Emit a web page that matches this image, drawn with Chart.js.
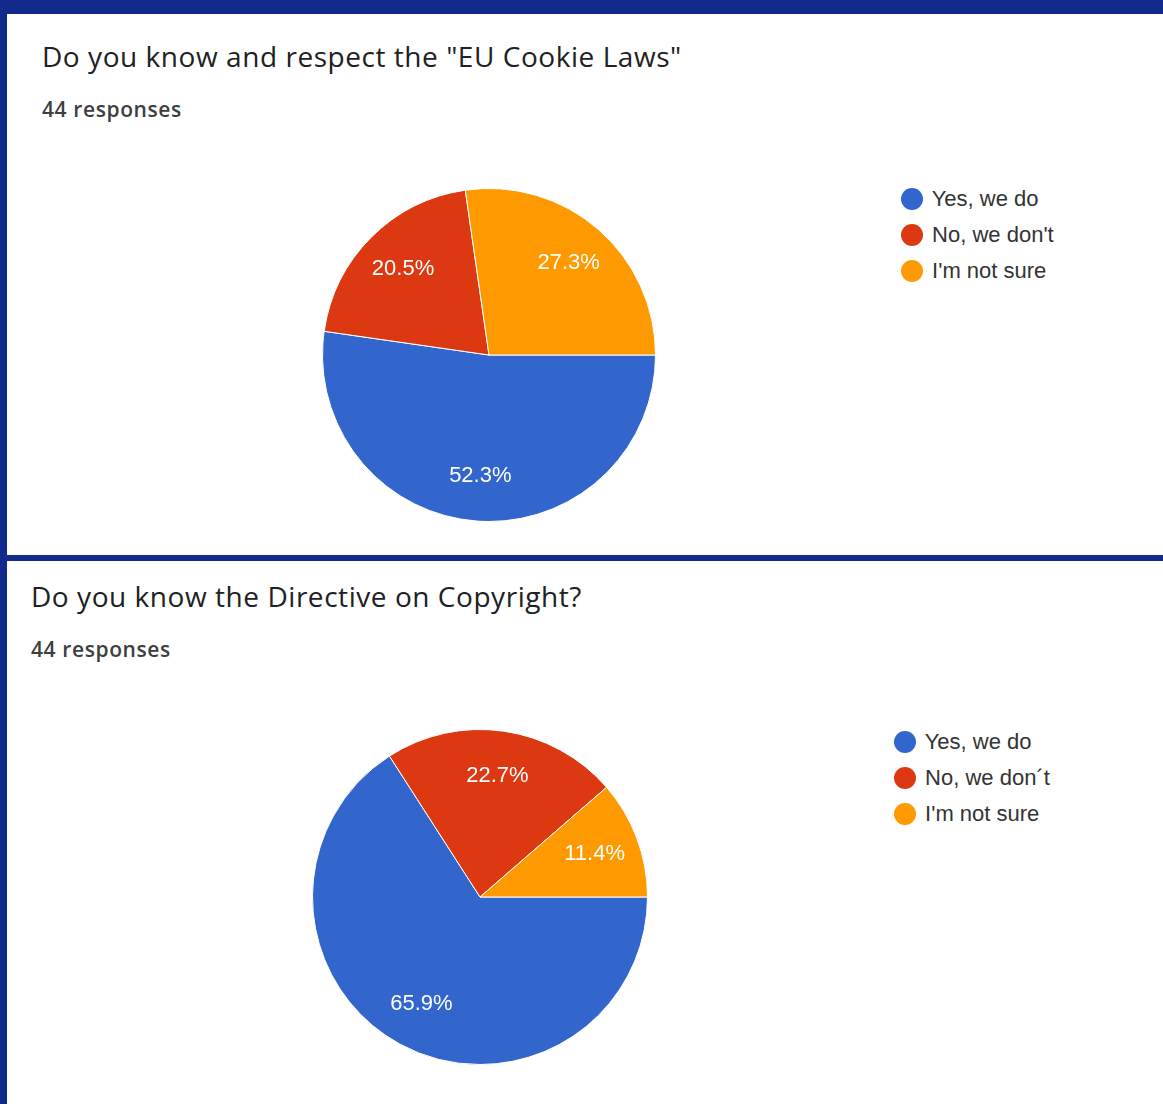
<!DOCTYPE HTML>
<html>

<head>
  <title>Survey</title>
  <meta charset="utf-8">
  <script src="https://cdn.jsdelivr.net/npm/chart.js"></script>
  <style>
    body { margin: 0; background: #112a8b; width: 1163px; height: 1104px; position: relative; overflow: hidden; }
    .panel { position: absolute; background: #fff; }
    .title { position: absolute; font-family: "Open Sans", sans-serif; font-size: 28px; line-height: 28px; letter-spacing: 0.55px; color: #202124; white-space: nowrap; }
    .resp { position: absolute; font-family: "Open Sans", sans-serif; font-size: 21px; line-height: 21px; letter-spacing: 0.6px; font-weight: 600; color: #3c4043; white-space: nowrap; }
    .legend { position: absolute; font-family: "Liberation Sans", Arial, sans-serif; font-size: 22px; color: #333; }
    .legend div { height: 36px; line-height: 36px; white-space: nowrap; }
    .legend span { display: inline-block; width: 22px; height: 22px; border-radius: 50%; vertical-align: middle; margin: -3px 3px 0 0; }
    canvas { position: absolute; }
  </style>
</head>

<body>
  <div class="panel" style="left:7px; top:14px; width:1156px; height:541px;"></div>
  <div class="panel" style="left:7px; top:561px; width:1156px; height:543px;"></div>

  <div class="title" style="left:42px; top:42px;">Do you know and respect the "EU Cookie Laws"</div>
  <div class="resp" style="left:42px; top:99px;">44 responses</div>
  <canvas id="cookieChart" width="334" height="334" style="left:322px; top:188px;"></canvas>
  <div class="legend" id="cookieLegend" style="left:901px; top:181px;"></div>

  <div class="title" style="left:31px; top:582px;">Do you know the Directive on Copyright?</div>
  <div class="resp" style="left:31px; top:639px;">44 responses</div>
  <canvas id="copyChart" width="336" height="336" style="left:312px; top:729px;"></canvas>
  <div class="legend" id="copyLegend" style="left:894px; top:724px;"></div>

  <script type="text/javascript">
    var sliceColors = ['#3366cc', '#dc3912', '#ff9900'];
    var cookieLabels = ["Yes, we do", "No, we don't", "I'm not sure"];
    var cookieCounts = [23, 9, 12];   // 52.3% / 20.5% / 27.3% of 44
    var copyLabels = ["Yes, we do", "No, we don\u00b4t", "I'm not sure"];
    var copyCounts = [29, 10, 5];     // 65.9% / 22.7% / 11.4% of 44

    // percent text inside each slice
    var pctLabels = {
      id: 'pctLabels',
      afterDatasetsDraw(chart) {
        var ctx = chart.ctx;
        var data = chart.data.datasets[0].data;
        var total = data.reduce((a, b) => a + b, 0);
        chart.getDatasetMeta(0).data.forEach((arc, i) => {
          var p = arc.getProps(['x', 'y', 'startAngle', 'endAngle', 'outerRadius'], true);
          var mid = (p.startAngle + p.endAngle) / 2;
          var r = p.outerRadius * 0.73;
          ctx.save();
          ctx.fillStyle = '#fff';
          ctx.font = '22px "Liberation Sans", Arial, sans-serif';
          ctx.textAlign = 'center';
          ctx.textBaseline = 'middle';
          ctx.fillText((data[i] / total * 100).toFixed(1) + '%', p.x + Math.cos(mid) * r, p.y + Math.sin(mid) * r);
          ctx.restore();
        });
      }
    };

    function makePie(id, legendId, labels, counts) {
      new Chart(document.getElementById(id), {
        type: 'pie',
        data: {
          labels: labels,
          datasets: [{
            data: counts,
            backgroundColor: sliceColors,
            borderColor: '#ffffff',
            borderWidth: 1,
          }],
        },
        options: {
          responsive: false,
          animation: false,
          rotation: 90,
          plugins: { legend: { display: false }, tooltip: { enabled: false } },
        },
        plugins: [pctLabels],
      });
      var lg = document.getElementById(legendId);
      labels.forEach((l, i) => {
        var row = document.createElement('div');
        var dot = document.createElement('span');
        dot.style.background = sliceColors[i];
        row.appendChild(dot);
        row.appendChild(document.createTextNode(' ' + l));
        lg.appendChild(row);
      });
    }

    makePie('cookieChart', 'cookieLegend', cookieLabels, cookieCounts);
    makePie('copyChart', 'copyLegend', copyLabels, copyCounts);
  </script>
</body>

</html>
